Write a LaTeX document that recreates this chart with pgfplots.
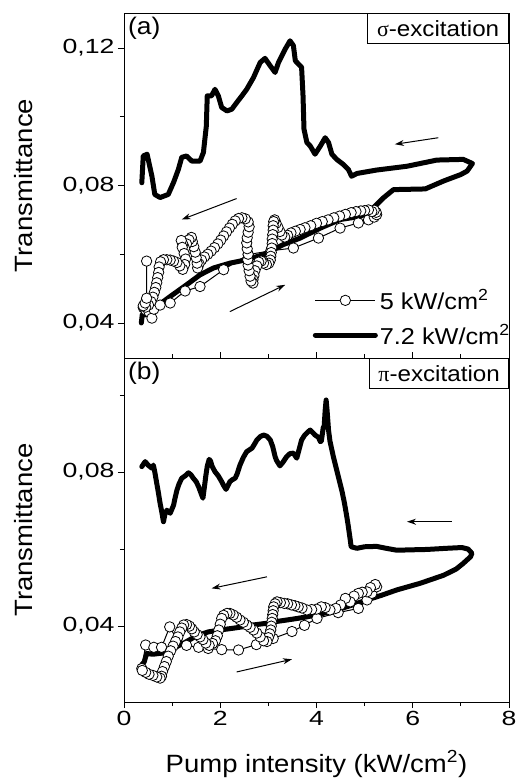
\documentclass[border=0pt]{standalone}
\usepackage{fontspec}
\setmainfont{Liberation Sans}[FakeStretch=1.1]
\newfontfamily\tickfont{Liberation Sans}[FakeStretch=1.3]
\newfontfamily\greekfont{Liberation Serif}
\usepackage{pgfplots}
\pgfplotsset{compat=1.18}
\usetikzlibrary{arrows.meta}

\tikzset{
  arr/.style={-{Stealth[length=9pt,width=6pt]}, line width=1pt},
  ylab/.style={rotate=90, anchor=base, font=\fontsize{25}{30}\selectfont},
}
\pgfplotsset{
  panel/.style={
    scale only axis, width=385pt,
    xmin=0, xmax=8, xtick={0,2,4,6,8}, minor xtick={1,3,5,7},
    axis line style={line width=0.8pt},
    major tick length=6pt, minor tick length=4pt,
    every tick/.style={black, line width=0.8pt},
    ytick pos=left, xtick pos=bottom,
    ytick align=outside,
    /pgf/number format/assume math mode=true,
    yticklabel style={/pgf/number format/.cd, use comma, fixed, fixed zerofill, precision=2},
    ticklabel style={font=\tickfont\fontsize{20.5}{24}\selectfont},
    clip=false,
  },
  thick curve/.style={black, line width=5pt, line join=round, line cap=round, mark=none},
  ring curve/.style={black, line width=1pt, mark=*, mark size=5.2pt,
    mark options={fill=white, draw=black, line width=0.8pt, solid}},
}

\begin{document}
\begin{tikzpicture}
\path[use as bounding box] (-124pt,13pt) rectangle (394pt,-765pt);

% ---------------- (a) sigma excitation ----------------
\begin{axis}[panel, at={(0pt,0pt)}, anchor=north west, height=345pt,
  ymin=0.0298, ymax=0.1302, ytick={0.04,0.08,0.12}, minor ytick={0.06,0.10},
  xtick align=inside, xticklabel=\empty,
  legend cell align=left,
  legend style={draw=none, fill=none, at={(axis description cs:0.49,0.205)}, anchor=north west,
    font=\fontsize{23}{27}\selectfont, row sep=9pt, inner sep=0pt,
    nodes={inner sep=2pt}},
  legend image code/.code={\draw[mark repeat=2,mark phase=2,#1] plot coordinates {(0pt,0pt) (30pt,0pt) (60pt,0pt)};},
]
\addplot[ring curve] coordinates {
(0.40,0.0445)(0.45,0.0438)(0.52,0.0432)(0.58,0.0414)(0.62,0.0440)(0.75,0.0452)
(0.96,0.0458)(1.27,0.0493)(1.58,0.0506)(2.07,0.0555)(2.58,0.0599)(3.05,0.0610)
(3.52,0.0618)(4.04,0.0647)(4.49,0.0676)(4.87,0.0691)(5.08,0.0700)(5.20,0.0708)(5.25,0.0715)
(5.24,0.0722)(5.20,0.0728)(5.15,0.0724)(5.08,0.0729)(5.00,0.0727)(4.92,0.0726)(4.82,0.0724)
(4.72,0.0721)(4.60,0.0716)(4.48,0.0711)(4.36,0.0706)(4.24,0.0700)(4.12,0.0695)(4.00,0.0690)
(3.88,0.0683)(3.76,0.0677)(3.66,0.0672)(3.56,0.0667)(3.47,0.0662)(3.40,0.0655)(3.34,0.0650)
(3.28,0.0656)(3.24,0.0666)(3.20,0.0678)(3.16,0.0690)(3.13,0.0700)(3.11,0.0695)(3.10,0.0683)
(3.10,0.0670)(3.09,0.0657)(3.08,0.0644)(3.08,0.0631)(3.07,0.0618)(3.06,0.0605)(3.05,0.0594)
(3.04,0.0583)(3.01,0.0574)(2.96,0.0570)(2.90,0.0574)(2.85,0.0580)(2.80,0.0577)(2.76,0.0566)
(2.72,0.0552)(2.70,0.0538)(2.68,0.0526)(2.68,0.0516)(2.64,0.0522)(2.62,0.0536)(2.60,0.0552)
(2.58,0.0568)(2.57,0.0584)(2.58,0.0600)(2.56,0.0616)(2.55,0.0633)(2.56,0.0648)(2.58,0.0664)
(2.60,0.0680)(2.58,0.0694)(2.52,0.0703)(2.45,0.0706)(2.38,0.0704)(2.31,0.0697)(2.25,0.0687)
(2.19,0.0676)(2.13,0.0665)(2.07,0.0653)(2.01,0.0641)(1.95,0.0630)(1.88,0.0619)(1.81,0.0609)
(1.74,0.0600)(1.67,0.0592)(1.61,0.0583)(1.56,0.0572)(1.53,0.0560)(1.52,0.0574)(1.50,0.0590)
(1.48,0.0606)(1.45,0.0622)(1.42,0.0637)(1.40,0.0649)(1.35,0.0642)(1.30,0.0630)(1.26,0.0617)
(1.22,0.0630)(1.19,0.0640)(1.21,0.0620)(1.25,0.0602)(1.28,0.0586)(1.26,0.0570)(1.22,0.0556)
(1.16,0.0566)(1.10,0.0576)(1.03,0.0580)(0.96,0.0583)(0.89,0.0584)(0.82,0.0584)(0.76,0.0578)
(0.73,0.0563)(0.72,0.0547)(0.70,0.0532)(0.68,0.0517)(0.66,0.0503)(0.63,0.0489)(0.60,0.0475)
(0.56,0.0462)(0.51,0.0452)(0.45,0.0446)(0.40,0.0450)(0.44,0.0458)(0.47,0.0472)(0.47,0.0580)
};
\addlegendentry{5 kW/cm\textsuperscript{2}}
\addplot[thick curve] coordinates {
(0.36,0.0400)(0.38,0.0425)(0.44,0.0423)(0.64,0.0444)(0.96,0.0477)(1.30,0.0511)(1.58,0.0540)
(1.86,0.0560)(2.20,0.0574)(2.55,0.0584)(2.90,0.0599)(3.10,0.0613)(3.31,0.0628)(3.66,0.0647)
(4.08,0.0676)(4.49,0.0701)(4.91,0.0710)(5.11,0.0725)(5.39,0.0764)(5.60,0.0788)(6.26,0.0790)
(6.64,0.0813)(7.00,0.0832)(7.13,0.0842)(7.24,0.0864)
(7.05,0.0876)(6.50,0.0874)(5.88,0.0856)(5.25,0.0845)(4.84,0.0835)(4.73,0.0827)(4.66,0.0847)
(4.56,0.0861)(4.42,0.0876)(4.32,0.0891)(4.25,0.0925)(4.18,0.0939)(4.08,0.0915)(3.97,0.0891)
(3.87,0.0915)(3.80,0.0925)(3.74,0.0964)(3.72,0.1061)(3.69,0.1144)(3.56,0.1163)(3.52,0.1207)
(3.45,0.1221)(3.35,0.1197)(3.21,0.1158)(3.14,0.1129)(3.04,0.1148)(2.93,0.1170)(2.83,0.1158)
(2.69,0.1114)(2.55,0.1080)(2.45,0.1061)(2.34,0.1041)(2.24,0.1022)(2.14,0.1017)(2.03,0.1027)
(1.96,0.1061)(1.89,0.1080)(1.82,0.1061)(1.73,0.1061)(1.71,0.0972)(1.65,0.0896)(1.58,0.0871)
(1.41,0.0871)(1.30,0.0886)(1.20,0.0882)(1.13,0.0847)(1.03,0.0809)(0.92,0.0774)(0.75,0.0765)
(0.64,0.0774)(0.58,0.0827)(0.48,0.0891)(0.40,0.0886)(0.37,0.0808)
};
\addlegendentry{7.2 kW/cm\textsuperscript{2}}
\node[ylab] at ([xshift=-91pt]rel axis cs:0,0.5) {Transmittance};
\node[anchor=north west, inner sep=4pt, font=\fontsize{24}{28}\selectfont] at (rel axis cs:0,1) {(a)};
\node[anchor=north east, draw, line width=0.8pt, fill=white, inner sep=0pt, minimum height=30pt, minimum width=141pt,
  font=\fontsize{22}{26}\selectfont] at (rel axis cs:1,1) {{\greekfont σ}-excitation};
\draw[arr] (axis cs:6.53,0.0939) -- (axis cs:5.63,0.0920);
\draw[arr] (axis cs:2.34,0.0762) -- (axis cs:1.20,0.0701);
\draw[arr] (axis cs:2.20,0.0433) -- (axis cs:3.35,0.0511);
\end{axis}

% ---------------- (b) pi excitation ----------------
\begin{axis}[panel, at={(0pt,-345pt)}, anchor=north west, height=344pt,
  ymin=0.0203, ymax=0.1096, ytick={0.04,0.08}, minor ytick={0.02,0.06,0.10},
  xtick align=outside,
  xlabel={Pump intensity (kW/cm\textsuperscript{2})},
  xlabel style={font=\fontsize{25}{30}\selectfont, at={(axis description cs:0.5,0)}, anchor=base, yshift=-70pt},
]
\addplot[ring curve] coordinates {
(0.37,0.0290)(0.45,0.0351)(0.62,0.0345)(0.78,0.0345)(0.95,0.0398)(1.10,0.0365)(1.30,0.0350)
(1.55,0.0345)(1.75,0.0342)(2.03,0.0339)(2.38,0.0338)(2.75,0.0352)(3.10,0.0368)(3.49,0.0386)
(3.75,0.0402)(4.01,0.0420)(4.45,0.0435)(4.87,0.0446)(5.05,0.0468)(5.15,0.0485)(5.25,0.0502)
(5.22,0.0508)(5.12,0.0500)(5.05,0.0489)(4.95,0.0488)(4.87,0.0485)(4.78,0.0478)(4.70,0.0463)
(4.60,0.0472)(4.50,0.0455)(4.40,0.0446)(4.28,0.0442)(4.18,0.0448)(4.10,0.0450)(4.00,0.0444)
(3.90,0.0443)(3.80,0.0442)(3.70,0.0447)(3.62,0.0450)(3.55,0.0453)(3.48,0.0455)(3.40,0.0458)
(3.33,0.0459)(3.25,0.0461)(3.18,0.0463)(3.14,0.0458)(3.11,0.0450)(3.10,0.0440)(3.09,0.0430)
(3.08,0.0420)(3.07,0.0410)(3.06,0.0400)(3.05,0.0390)(3.03,0.0380)(3.00,0.0370)(2.97,0.0360)
(2.90,0.0362)(2.83,0.0372)(2.76,0.0382)(2.69,0.0390)(2.62,0.0397)(2.55,0.0403)(2.48,0.0410)
(2.41,0.0416)(2.34,0.0423)(2.27,0.0429)(2.20,0.0433)(2.14,0.0433)(2.07,0.0428)(2.03,0.0420)
(2.00,0.0405)(1.97,0.0390)(1.94,0.0375)(1.90,0.0362)(1.84,0.0355)(1.77,0.0350)(1.70,0.0356)
(1.64,0.0365)(1.58,0.0372)(1.52,0.0378)(1.46,0.0385)(1.41,0.0393)(1.36,0.0400)(1.30,0.0404)
(1.24,0.0403)(1.20,0.0395)(1.16,0.0385)(1.12,0.0372)(1.07,0.0360)(1.02,0.0348)(0.97,0.0336)
(0.92,0.0322)(0.88,0.0308)(0.84,0.0295)(0.80,0.0282)(0.78,0.0270)(0.75,0.0265)(0.68,0.0268)
(0.60,0.0272)(0.52,0.0275)(0.45,0.0280)(0.38,0.0285)
};
\addplot[thick curve] coordinates {
(0.37,0.0300)(0.42,0.0307)(0.47,0.0329)(0.60,0.0327)(0.80,0.0330)(0.96,0.0338)(1.23,0.0355)
(1.51,0.0375)(1.75,0.0385)(2.00,0.0390)(2.35,0.0396)(2.69,0.0403)(3.00,0.0408)(3.17,0.0412)
(3.50,0.0418)(3.80,0.0424)(4.10,0.0432)(4.42,0.0442)(4.75,0.0455)(5.05,0.0468)(5.35,0.0480)
(5.67,0.0494)(6.15,0.0511)(6.64,0.0532)(6.90,0.0548)(7.05,0.0563)(7.20,0.0580)(7.23,0.0589)
(7.15,0.0600)(7.02,0.0604)(6.70,0.0602)(6.29,0.0599)(5.95,0.0598)(5.67,0.0597)(5.45,0.0602)
(5.25,0.0607)(5.00,0.0606)(4.84,0.0602)(4.72,0.0606)(4.70,0.0625)(4.66,0.0660)(4.63,0.0684)
(4.58,0.0720)(4.53,0.0750)(4.45,0.0790)(4.35,0.0840)(4.28,0.0880)(4.25,0.0909)(4.22,0.0960)
(4.20,0.0987)(4.18,0.0960)(4.16,0.0920)(4.14,0.0915)(4.10,0.0880)(4.08,0.0879)(4.04,0.0890)
(3.97,0.0896)(3.87,0.0909)(3.83,0.0905)(3.75,0.0895)(3.69,0.0883)(3.62,0.0850)(3.59,0.0836)
(3.52,0.0849)(3.45,0.0848)(3.38,0.0840)(3.30,0.0825)(3.24,0.0816)(3.17,0.0830)(3.14,0.0840)
(3.09,0.0866)(3.04,0.0883)(2.97,0.0893)(2.90,0.0896)(2.83,0.0892)(2.76,0.0883)(2.70,0.0870)
(2.66,0.0862)(2.55,0.0853)(2.48,0.0838)(2.41,0.0818)(2.35,0.0795)(2.31,0.0784)(2.25,0.0780)
(2.20,0.0775)(2.16,0.0765)(2.12,0.0755)(2.07,0.0765)(2.03,0.0775)(1.96,0.0790)(1.89,0.0801)
(1.83,0.0815)(1.80,0.0828)(1.77,0.0833)(1.73,0.0815)(1.70,0.0790)(1.68,0.0770)(1.64,0.0732)
(1.60,0.0745)(1.55,0.0762)(1.50,0.0775)(1.44,0.0784)(1.39,0.0793)(1.34,0.0798)(1.27,0.0790)
(1.20,0.0784)(1.14,0.0768)(1.10,0.0753)(1.06,0.0732)(1.03,0.0714)(0.96,0.0693)(0.89,0.0701)
(0.85,0.0690)(0.82,0.0671)(0.78,0.0700)(0.75,0.0719)(0.71,0.0750)(0.68,0.0771)(0.64,0.0800)
(0.61,0.0818)(0.58,0.0810)(0.50,0.0818)(0.44,0.0827)(0.37,0.0814)
};
\node[ylab] at ([xshift=-91pt]rel axis cs:0,0.5) {Transmittance};
\node[anchor=north west, inner sep=4pt, font=\fontsize{24}{28}\selectfont] at (rel axis cs:0,1) {(b)};
\node[anchor=north east, draw, line width=0.8pt, fill=white, inner sep=0pt, minimum height=30pt, minimum width=139pt,
  font=\fontsize{22}{26}\selectfont] at (rel axis cs:1,1) {{\greekfont π}-excitation};
\draw[arr] (axis cs:6.81,0.0671) -- (axis cs:5.88,0.0671);
\draw[arr] (axis cs:2.97,0.0528) -- (axis cs:1.82,0.0498);
\draw[arr] (axis cs:2.34,0.0281) -- (axis cs:3.49,0.0314);
\end{axis}
\end{tikzpicture}
\end{document}
